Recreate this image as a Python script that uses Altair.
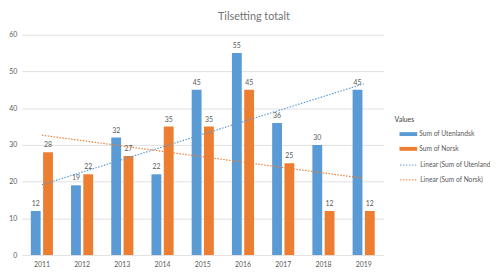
import altair as alt
import pandas as pd

years = ["2011", "2012", "2013", "2014", "2015", "2016", "2017", "2018", "2019"]
utenlandsk = [12, 19, 32, 22, 45, 55, 36, 30, 45]
norsk = [28, 22, 27, 35, 35, 45, 25, 12, 12]
series_names = ["Sum of Utenlandsk", "Sum of Norsk"]
trend_names = ["Linear (Sum of Utenlandsk)", "Linear (Sum of Norsk)"]
colors = ["#5B9BD5", "#ED7D31"]
y_max = 60
y_step = 10

rows = []
for i, yr in enumerate(years):
    rows.append({"year": yr, "idx": i, "series": series_names[0], "value": utenlandsk[i]})
    rows.append({"year": yr, "idx": i, "series": series_names[1], "value": norsk[i]})
df = pd.DataFrame(rows)

FONT = "Lato"
GREY = "#595959"

xscale = alt.Scale(paddingInner=0.45, paddingOuter=0.225)
yscale = alt.Scale(domain=[0, y_max], nice=False)

xenc = alt.X(
    "year:N", sort=years, title=None, scale=xscale,
    axis=alt.Axis(labelAngle=0, domain=False, ticks=False, labelPadding=6,
                  labelFontSize=7, labelColor=GREY, labelFont=FONT, grid=False),
)
yenc = alt.Y(
    "value:Q", title=None, scale=yscale,
    axis=alt.Axis(tickCount=y_max // y_step, tickMinStep=y_step, domain=False, ticks=False,
                  labelOverlap=False, labelPadding=5, labelFontSize=7,
                  labelColor=GREY, labelFont=FONT,
                  grid=True, gridColor="#D9D9D9", gridWidth=0.8),
)
xoff = alt.XOffset("series:N", sort=series_names,
                   scale=alt.Scale(paddingInner=0.2, paddingOuter=0))

color = alt.Color(
    "series:N",
    scale=alt.Scale(domain=series_names, range=colors),
    legend=alt.Legend(
        title="Values", orient="none", legendX=379, legendY=83, padding=0,
        symbolType="M-1,-0.22H1V0.22H-1Z", symbolSize=324, symbolStrokeWidth=0,
        symbolOffset=5,
        labelFontSize=6.8, labelColor=GREY, labelFont=FONT, labelLimit=200,
        titleFontSize=7, titleColor="#404040", titleFont=FONT, titleFontWeight="normal",
        titlePadding=2, rowPadding=2, labelOffset=2,
    ),
)

stroke = alt.Stroke(
    "series:N",
    scale=alt.Scale(domain=trend_names, range=colors),
    legend=alt.Legend(
        title=None, orient="none", legendX=384, legendY=123, padding=0,
        symbolType="stroke", symbolSize=324, symbolStrokeWidth=1, symbolDash=[1.5, 1.5],
        labelFontSize=6.8, labelColor=GREY, labelFont=FONT, labelLimit=200,
        rowPadding=1, labelOffset=2,
    ),
)

base = alt.Chart(df)

bars = base.mark_bar().encode(x=xenc, xOffset=xoff, y=yenc, color=color)

labels = base.mark_text(dy=-4, baseline="bottom", fontSize=7, color=GREY, font=FONT).encode(
    x=xenc, xOffset=xoff, y=yenc, text="value:Q",
)

trend = base.transform_regression(
    "idx", "value", groupby=["series"]
).transform_calculate(
    year="toString(2011 + datum.idx)",
    series="'Linear (' + datum.series + ')'",
).mark_line(strokeDash=[1.5, 1.5], strokeWidth=1.2).encode(
    x=alt.X("year:N", sort=years, bandPosition=0.5, scale=xscale, title=None),
    y=yenc,
    stroke=stroke,
)

chart = alt.layer(bars, labels, trend).properties(
    width=368, height=224,
    title=alt.TitleParams("Tilsetting totalt", font=FONT, fontSize=11, color="#737373",
                          fontWeight="normal", anchor="middle", dx=52, offset=9),
    autosize=alt.AutoSizeParams(type="none"),
    padding={"left": 14, "top": 25, "right": 108, "bottom": 14},
).configure_view(stroke=None)

chart.save("out.html", embed_options={"renderer": "svg", "actions": False})
